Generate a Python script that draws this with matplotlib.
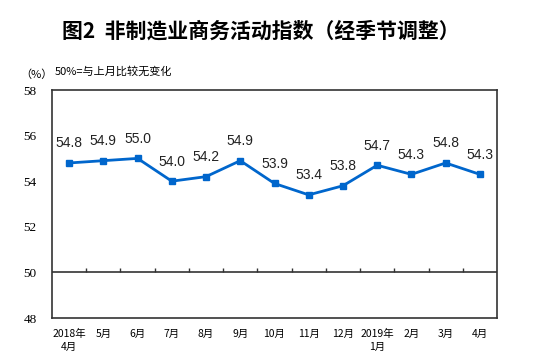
import matplotlib.pyplot as plt
import numpy as np

plt.rcParams['font.family'] = ['Noto Sans CJK SC', 'DejaVu Sans']

months = ["2018年\n4月", "5月", "6月", "7月", "8月", "9月", "10月", "11月", "12月",
          "2019年\n1月", "2月", "3月", "4月"]
values = [54.8, 54.9, 55.0, 54.0, 54.2, 54.9, 53.9, 53.4, 53.8, 54.7, 54.3, 54.8, 54.3]
y_ticks = [48, 50, 52, 54, 56, 58]

COLOR = "#0066CC"

fig = plt.figure(figsize=(5.4, 3.59), dpi=100)
ax = fig.add_axes([52 / 540, 1 - 318 / 359, 445 / 540, 228 / 359])

x = np.arange(len(values))
ax.plot(x, values, color=COLOR, linewidth=2.0, marker="s", markersize=4.5)
for xi, v in zip(x, values):
    ax.annotate(f"{v:.1f}", (xi, v), xytext=(0, 9), textcoords="offset points",
                ha="center", va="bottom", fontsize=10, family="Liberation Sans", color="#222222")

# 50 line with small category-boundary ticks on it
ax.axhline(50, color="#333333", linewidth=1.2)
ax.vlines(x[:-1] + 0.5, 50, 50.2, color="#333333", linewidth=1.0)

ax.set_xlim(-0.5, len(values) - 0.5)
ax.set_ylim(48, 58)
ax.set_yticks(y_ticks)
ax.set_yticklabels([str(t) for t in y_ticks], family="Liberation Serif", fontsize=9.5)
ax.set_xticks(x)
ax.set_xticklabels(months, fontsize=7.5, linespacing=1.3)
ax.tick_params(axis="y", length=0, pad=11)
ax.tick_params(axis="x", length=0, pad=8)
for spine in ax.spines.values():
    spine.set_color("#333333")
    spine.set_linewidth(1.2)

fig.text(261 / 540, 0.914, "图2  非制造业商务活动指数（经季节调整）", ha="center", va="center",
         fontsize=15, fontweight="bold")
fig.text(20 / 540, 1 - 75 / 359, "（%）", ha="left", va="center", fontsize=8)
fig.text(55 / 540, 1 - 71 / 359, "50%=与上月比较无变化", ha="left", va="center", fontsize=8)

fig.savefig("out.png", dpi=100)
